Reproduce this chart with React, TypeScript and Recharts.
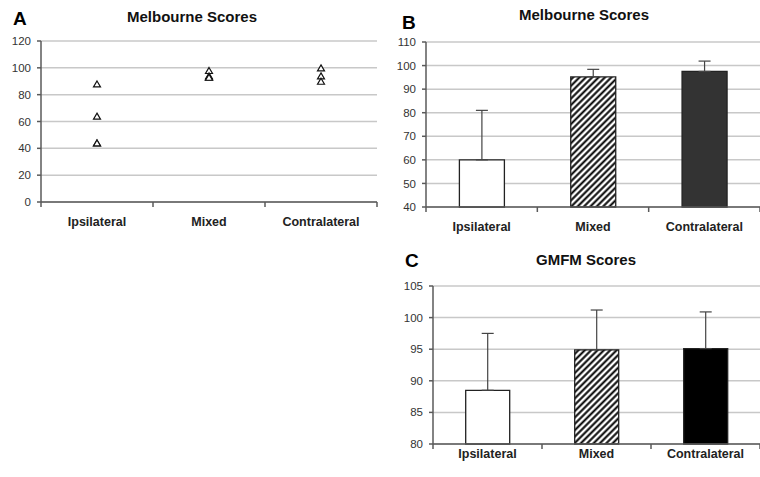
import React from 'react';
import {
  ScatterChart,
  Scatter,
  BarChart,
  Bar,
  Cell,
  ErrorBar,
  XAxis,
  YAxis,
  CartesianGrid,
} from 'recharts';

const categories = ['Ipsilateral', 'Mixed', 'Contralateral'];

// Panel A: individual Melbourne scores per group
const ipsilateralScores = [88, 64, 44, 44];
const mixedScores = [98, 94, 93, 93];
const contralateralScores = [100, 94, 90];

// Panel B: Melbourne means with upper SD
const melbourneMeans = [60, 95.2, 97.5];
const melbourneSd = [21, 3.2, 4.4];

// Panel C: GMFM means with upper SD
const gmfmMeans = [88.5, 94.9, 95.1];
const gmfmSd = [9, 6.3, 5.8];

const melbourneTicksA = [0, 20, 40, 60, 80, 100, 120];
const melbourneTicksB = [40, 50, 60, 70, 80, 90, 100, 110];
const gmfmTicks = [80, 85, 90, 95, 100, 105];

const FONT = '"Liberation Sans", Arial, sans-serif';
const AXIS_COLOR = '#5a5a5a';
const GRID_COLOR = '#c8c8c8';

const scatterPoints = [
  ...ipsilateralScores.map((s) => ({ group: categories[0], score: s })),
  ...mixedScores.map((s) => ({ group: categories[1], score: s })),
  ...contralateralScores.map((s) => ({ group: categories[2], score: s })),
];

const melbourneData = categories.map((c, i) => ({
  group: c,
  mean: melbourneMeans[i],
  err: [0, melbourneSd[i]],
}));

const gmfmData = categories.map((c, i) => ({
  group: c,
  mean: gmfmMeans[i],
  err: [0, gmfmSd[i]],
}));

// small hollow triangle marker
function TriangleMarker(props: any) {
  const { cx, cy } = props;
  if (cx == null || cy == null) return null;
  const h = 6;
  const w = 7;
  return (
    <polygon
      points={`${cx},${cy - h / 2} ${cx + w / 2},${cy + h / 2} ${cx - w / 2},${cy + h / 2}`}
      fill="#fff"
      stroke="#111"
      strokeWidth={1.2}
    />
  );
}

// category label + Excel-style tick marks on the band boundaries
function makeCategoryTick(gap: number) {
  return function CategoryTick(props: any) {
    const { x, y, payload, index, visibleTicksCount } = props;
    const half = payload?.offset ?? 0;
    const axisY = y - gap;
    const isLast = index === visibleTicksCount - 1;
    return (
      <g>
        <line x1={x - half} x2={x - half} y1={axisY} y2={axisY + 5} stroke={AXIS_COLOR} strokeWidth={1.5} />
        {isLast && (
          <line x1={x + half} x2={x + half} y1={axisY} y2={axisY + 5} stroke={AXIS_COLOR} strokeWidth={1.5} />
        )}
        <text
          x={x}
          y={y}
          dy="0.71em"
          textAnchor="middle"
          fontFamily={FONT}
          fontSize={12.5}
          fontWeight="bold"
          fill="#222"
        >
          {payload.value}
        </text>
      </g>
    );
  };
}

const yTickStyle = { fontSize: 11.5, fill: '#333', fontFamily: FONT };

function PanelLabel({ text, left, top }: { text: string; left: number; top: number }) {
  return (
    <div
      style={{
        position: 'absolute',
        left,
        top,
        fontFamily: FONT,
        fontWeight: 'bold',
        fontSize: 19,
        lineHeight: '20px',
        color: '#000',
      }}
    >
      {text}
    </div>
  );
}

function Title({ text, center, top }: { text: string; center: number; top: number }) {
  return (
    <div
      style={{
        position: 'absolute',
        left: center - 100,
        width: 200,
        top,
        textAlign: 'center',
        fontFamily: FONT,
        fontWeight: 'bold',
        fontSize: 15,
        lineHeight: '18px',
        color: '#111',
      }}
    >
      {text}
    </div>
  );
}

export default function App() {
  return (
    <div style={{ position: 'absolute', left: 0, top: 0, width: 760, height: 477, background: '#fff', overflow: 'hidden' }}>
      <PanelLabel text="A" left={13} top={9} />
      <Title text="Melbourne Scores" center={192} top={8} />
      <PanelLabel text="B" left={402} top={13} />
      <Title text="Melbourne Scores" center={584} top={6} />
      <PanelLabel text="C" left={405} top={251} />
      <Title text="GMFM Scores" center={586} top={251} />

      {/* A */}
      <div style={{ position: 'absolute', left: 0, top: 0 }}>
        <ScatterChart width={380} height={235} margin={{ top: 41, right: 3, bottom: 8, left: 5 }}>
          <CartesianGrid vertical={false} stroke={GRID_COLOR} strokeWidth={1.5} />
          <XAxis
            type="category"
            dataKey="group"
            allowDuplicatedCategory={false}
            tickLine={false}
            tickSize={0}
            tickMargin={15}
            height={25}
            stroke={AXIS_COLOR}
            strokeWidth={1.5}
            tick={makeCategoryTick(15)}
            interval={0}
          />
          <YAxis
            type="number"
            dataKey="score"
            domain={[0, 120]}
            ticks={melbourneTicksA}
            width={36}
            tickSize={4}
            tickMargin={6}
            stroke={AXIS_COLOR}
            strokeWidth={1.5}
            tick={yTickStyle}
          />
          <Scatter data={scatterPoints} shape={<TriangleMarker />} isAnimationActive={false} />
        </ScatterChart>
      </div>

      {/* B */}
      <div style={{ position: 'absolute', left: 380, top: 0 }}>
        <BarChart
          width={380}
          height={240}
          data={melbourneData}
          margin={{ top: 42, right: 0, bottom: 8, left: 6 }}
          barCategoryGap="30%"
        >
          <defs>
            <pattern id="hatchB" width="4.5" height="4.5" patternUnits="userSpaceOnUse" patternTransform="rotate(45)">
              <rect width="4.5" height="4.5" fill="#fff" />
              <line x1="2.25" y1="0" x2="2.25" y2="4.5" stroke="#000" strokeWidth="2" />
            </pattern>
          </defs>
          <CartesianGrid vertical={false} stroke={GRID_COLOR} strokeWidth={1.5} />
          <XAxis
            dataKey="group"
            tickLine={false}
            tickSize={0}
            tickMargin={15}
            height={25}
            stroke={AXIS_COLOR}
            strokeWidth={1.5}
            tick={makeCategoryTick(15)}
            interval={0}
          />
          <YAxis
            domain={[40, 110]}
            ticks={melbourneTicksB}
            width={40}
            tickSize={4}
            tickMargin={6}
            stroke={AXIS_COLOR}
            strokeWidth={1.5}
            tick={yTickStyle}
          />
          <Bar dataKey="mean" stroke="#222" strokeWidth={1.3} isAnimationActive={false}>
            <Cell fill="#fff" />
            <Cell fill="url(#hatchB)" />
            <Cell fill="#333" />
            <ErrorBar dataKey="err" direction="y" width={6} stroke="#444" strokeWidth={1.2} />
          </Bar>
        </BarChart>
      </div>

      {/* C */}
      <div style={{ position: 'absolute', left: 380, top: 240 }}>
        <BarChart
          width={380}
          height={237}
          data={gmfmData}
          margin={{ top: 46, right: 0, bottom: 8, left: 6 }}
          barCategoryGap="30%"
        >
          <defs>
            <pattern id="hatchC" width="4.5" height="4.5" patternUnits="userSpaceOnUse" patternTransform="rotate(45)">
              <rect width="4.5" height="4.5" fill="#fff" />
              <line x1="2.25" y1="0" x2="2.25" y2="4.5" stroke="#000" strokeWidth="2" />
            </pattern>
          </defs>
          <CartesianGrid vertical={false} stroke={GRID_COLOR} strokeWidth={1.5} />
          <XAxis
            dataKey="group"
            tickLine={false}
            tickSize={0}
            tickMargin={5}
            height={25}
            stroke={AXIS_COLOR}
            strokeWidth={1.5}
            tick={makeCategoryTick(5)}
            interval={0}
          />
          <YAxis
            domain={[80, 105]}
            ticks={gmfmTicks}
            width={47}
            tickSize={4}
            tickMargin={6}
            stroke={AXIS_COLOR}
            strokeWidth={1.5}
            tick={yTickStyle}
          />
          <Bar dataKey="mean" stroke="#222" strokeWidth={1.3} isAnimationActive={false}>
            <Cell fill="#fff" />
            <Cell fill="url(#hatchC)" />
            <Cell fill="#000" />
            <ErrorBar dataKey="err" direction="y" width={6} stroke="#444" strokeWidth={1.2} />
          </Bar>
        </BarChart>
      </div>
    </div>
  );
}
